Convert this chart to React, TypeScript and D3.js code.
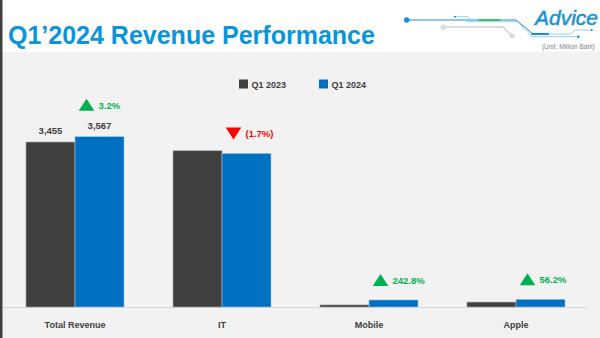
import React from "react";
import * as d3 from "d3";

const categories = ["Total Revenue", "IT", "Mobile", "Apple"];
const seriesNames = ["Q1 2023", "Q1 2024"];
const q1_2023 = [3455, 3272, 43, 103];
const q1_2024 = [3567, 3216, 147, 161];
const changeLabels = ["3.2%", "(1.7%)", "242.8%", "56.2%"];
const changeUp = [true, false, true, true];
const showValueLabels = [true, false, false, false];
const valueLabels2023 = ["3,455", "", "", ""];
const valueLabels2024 = ["3,567", "", "", ""];

const W = 600;
const H = 338;
const DARK = "#404040";
const BLUE = "#0070c0";
const GREEN = "#00b050";
const RED = "#ff0000";
const TXT = "#404040";
const FONT = "'Liberation Sans', Arial, sans-serif";

export default function App() {
  const x = d3.scaleBand<string>().domain(categories).range([1.5, 589.5]).paddingInner(0).paddingOuter(0);
  const xs = d3.scaleBand<string>().domain(seriesNames).range([0, x.bandwidth()]).paddingInner(0).paddingOuter(0.5);
  const y = d3.scaleLinear().domain([0, 4000]).range([307, 116]);
  const colors = [DARK, BLUE];
  const series = [q1_2023, q1_2024];
  const valueLabels = [valueLabels2023, valueLabels2024];

  return (
    <svg width={W} height={H} style={{ position: "absolute", left: 0, top: 0, display: "block" }} fontFamily={FONT}>
      <rect x={0} y={0} width={W} height={H} fill="#ffffff" />
      <rect x={0} y={52} width={W} height={H - 52} fill="#f2f2f2" />
      <rect x={0} y={0} width={2.5} height={H} fill={DARK} />

      {/* Title */}
      <text x={8} y={44} fontSize={25} fontWeight="bold" fill="#0895dc">
        Q1’2024 Revenue Performance
      </text>

      {/* Logo decoration */}
      <g fill="none" strokeLinecap="round">
        <path d="M443,27 L503,27 L512,36" stroke="#dedede" strokeWidth={2.2} />
        <circle cx={443.3} cy={27.3} r={2.8} fill="#dedede" />
        <circle cx={512} cy={35.7} r={2.8} fill="#dedede" />
        <path d="M407,20 L516,20 L533,34 L548,34" stroke="#1a8fd6" strokeWidth={1} />
        <path d="M455,16.7 L468,16.7 L471,20" stroke="#7cc4ee" strokeWidth={0.8} />
        <path d="M467,21.7 L518,21.7 L532,36.7 L578,36.7" stroke="#7cc4ee" strokeWidth={0.8} />
        <path d="M548,34 L570,34 L575,30 L592,30" stroke="#7cc4ee" strokeWidth={0.8} />
        <path d="M479,20 L500,20" stroke="#22c43a" strokeWidth={1.6} />
        <path d="M532,34 L548,34" stroke="#1a8fd6" strokeWidth={2} />
        <circle cx={406.7} cy={20} r={2.7} fill="#1a8fd6" />
        <circle cx={455} cy={16.7} r={1} fill="#1a8fd6" />
        <circle cx={578.3} cy={36.7} r={1.3} fill="#1a8fd6" />
        <circle cx={591.7} cy={30} r={1} fill="#1a8fd6" />
      </g>
      <text x={535} y={24.5} fontSize={21} fontStyle="italic" fill="#1a8fd6" stroke="#1a8fd6" strokeWidth={0.5}>
        Advice
      </text>
      <text x={595} y={49} fontSize={6.5} fill="#7f7f7f" textAnchor="end">
        (Unit: Million Baht)
      </text>

      {/* Legend */}
      {seriesNames.map((s, i) => {
        const lx = 239 + i * 80;
        return (
          <g key={s}>
            <rect x={lx} y={79.5} width={9} height={9} fill={colors[i]} />
            <text x={lx + 12.5} y={87.5} fontSize={9} fontWeight="bold" fill={TXT}>
              {s}
            </text>
          </g>
        );
      })}

      {/* Axis line */}
      <line x1={3} x2={588} y1={307.5} y2={307.5} stroke="#d9d9d9" strokeWidth={1} />

      {/* Bars */}
      {categories.map((c, ci) => (
        <g key={c} transform={`translate(${x(c)},0)`}>
          {series.map((vals, si) => (
            <rect
              key={si}
              x={xs(seriesNames[si])}
              y={y(vals[ci])}
              width={xs.bandwidth()}
              height={y(0) - y(vals[ci])}
              fill={colors[si]}
              stroke={si === 0 ? "#a6a6a6" : "#9dc3e6"}
              strokeWidth={0.6}
            />
          ))}
          {showValueLabels[ci] &&
            series.map((vals, si) => (
              <text
                key={"v" + si}
                x={(xs(seriesNames[si]) as number) + xs.bandwidth() / 2}
                y={y(vals[ci]) - 8}
                textAnchor="middle"
                fontSize={9.5}
                fontWeight="bold"
                fill={TXT}
              >
                {valueLabels[si][ci]}
              </text>
            ))}
          {(() => {
            const bx = (xs(seriesNames[1]) as number) + xs.bandwidth() / 2 - 13;
            const top = y(q1_2024[ci]);
            const bottom = showValueLabels[ci] ? top - 26 : top - 14;
            const t = bottom - 12;
            const up = changeUp[ci];
            const col = up ? GREEN : RED;
            const tri = up
              ? `M${bx - 7.8},${bottom} L${bx + 7.8},${bottom} L${bx},${t} Z`
              : `M${bx - 7.8},${t} L${bx + 7.8},${t} L${bx},${bottom} Z`;
            return (
              <g>
                <path d={tri} fill={col} />
                <text x={bx + 12} y={bottom - 2} fontSize={9.5} fontWeight="bold" fill={col}>
                  {changeLabels[ci]}
                </text>
              </g>
            );
          })()}
          <text x={x.bandwidth() / 2} y={328} textAnchor="middle" fontSize={9} fontWeight="bold" fill={TXT}>
            {c}
          </text>
        </g>
      ))}
    </svg>
  );
}
